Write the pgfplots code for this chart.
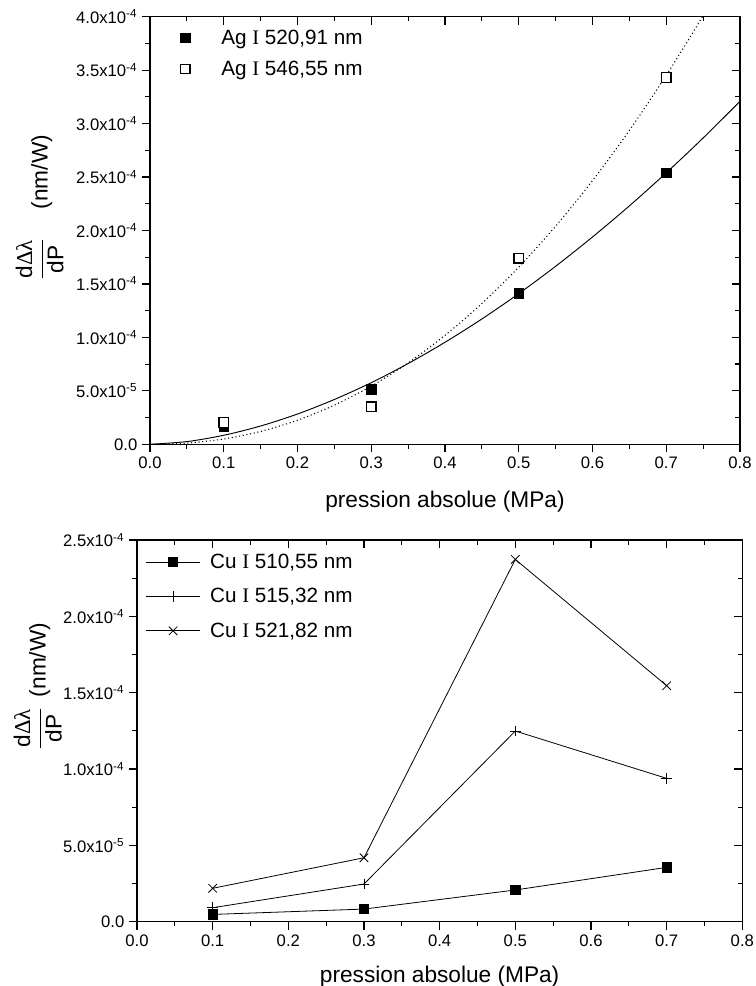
\documentclass[border=0pt]{standalone}
\usepackage{pgfplots}
\pgfplotsset{compat=1.18}
\usepackage{fontspec}
\setmainfont{Liberation Sans}
\newfontfamily\serifI{Liberation Serif}
\begin{document}
\begin{tikzpicture}
\useasboundingbox (0,0) rectangle (567pt,-739.5pt);
\pgfplotsset{
  mystyle/.style={scale only axis, xmin=0, xmax=0.8,
    axis line style={line width=1.1pt},
    every tick/.style={line width=0.9pt,black},
    major tick length=6pt, minor tick length=3.5pt,
    tick label style={font=\fontsize{12.5}{14}\selectfont},
    label style={font=\fontsize{17}{20}\selectfont},
    xtick={0,0.1,0.2,0.3,0.4,0.5,0.6,0.7,0.8},
    minor x tick num=1, minor y tick num=1,
    scaled y ticks=false, scaled x ticks=false},
  topaxis/.style={mystyle, at={(112.5pt,-333.2pt)}, anchor=south west,
    width=442.5pt, height=320.7pt, ymin=0, ymax=4e-4,
    ytick={0,5e-5,1e-4,1.5e-4,2e-4,2.5e-4,3e-4,3.5e-4,4e-4}},
  botaxis/.style={mystyle, at={(102.75pt,-691.3pt)}, anchor=south west,
    width=454pt, height=286.3pt, ymin=0, ymax=2.5e-4,
    ytick={0,5e-5,1e-4,1.5e-4,2e-4,2.5e-4}},
}
% ---------------- top panel ----------------
\begin{axis}[topaxis,
  xtick pos=left, ytick pos=left, tick align=outside,
  xticklabels={0.0,0.1,0.2,0.3,0.4,0.5,0.6,0.7,0.8},
  yticklabels={0.0,5.0x10\textsuperscript{-5},1.0x10\textsuperscript{-4},1.5x10\textsuperscript{-4},2.0x10\textsuperscript{-4},2.5x10\textsuperscript{-4},3.0x10\textsuperscript{-4},3.5x10\textsuperscript{-4},4.0x10\textsuperscript{-4}},
  xlabel={pression absolue (MPa)},
  xlabel style={at={(axis description cs:0.5,-0.147)}, anchor=base},
  ylabel={$\displaystyle\frac{\mbox{d{\serifI Δλ}}}{\mbox{dP}}$\hspace{22pt}(nm/W)},
  ylabel style={at={(axis description cs:-0.187,0.554)}, anchor=center},
  legend style={draw=none, fill=none, at={(axis description cs:0.051,0.975)}, anchor=north west,
    font=\fontsize{15.5}{18}\selectfont, inner sep=0pt, row sep=8pt,
    nodes={inner sep=1.5pt},
    /tikz/every odd column/.append style={column sep=22pt}},
  legend cell align=left,
  legend image code/.code={\draw[#1] plot coordinates {(0pt,0pt)};},
]
\addplot[black, line width=0.7pt, smooth, forget plot] coordinates {
 (0,0) (0.05,2.51e-6) (0.1,8.43e-6) (0.15,1.71e-5) (0.2,2.83e-5) (0.25,4.19e-5)
 (0.3,5.76e-5) (0.35,7.55e-5) (0.4,9.54e-5) (0.45,1.172e-4) (0.5,1.409e-4)
 (0.55,1.665e-4) (0.6,1.939e-4) (0.65,2.23e-4) (0.7,2.539e-4) (0.75,2.865e-4) (0.8,3.208e-4)};
\addplot[black, line width=0.8pt, dash pattern=on 0.8pt off 2pt, smooth, forget plot] coordinates {
 (0,0) (0.05,1.10e-6) (0.1,4.96e-6) (0.15,1.20e-5) (0.2,2.25e-5) (0.25,3.66e-5)
 (0.3,5.44e-5) (0.35,7.61e-5) (0.4,1.019e-4) (0.45,1.317e-4) (0.5,1.657e-4)
 (0.55,2.04e-4) (0.6,2.466e-4) (0.65,2.936e-4) (0.7,3.451e-4) (0.75,4.011e-4) (0.8,4.617e-4)};
\addplot[only marks, mark=square*, mark size=3.6pt, black] coordinates {
 (0.1,1.65e-5) (0.3,5.15e-5) (0.5,1.41e-4) (0.7,2.54e-4)};
\addlegendentry{Ag {\serifI I} 520,91 nm}
\addplot[only marks, mark=square*, mark size=3.6pt, mark options={fill=white, draw=black, line width=0.9pt}] coordinates {
 (0.1,2.05e-5) (0.3,3.5e-5) (0.5,1.74e-4) (0.7,3.43e-4)};
\addlegendentry{Ag {\serifI I} 546,55 nm}
\end{axis}
\begin{axis}[topaxis,
  xtick pos=right, ytick pos=right, tick align=inside,
  xticklabels={}, yticklabels={}]
\end{axis}
% ---------------- bottom panel ----------------
\begin{axis}[botaxis,
  xtick pos=left, ytick pos=left, tick align=outside,
  xticklabels={0.0,0.1,0.2,0.3,0.4,0.5,0.6,0.7,0.8},
  yticklabels={0.0,5.0x10\textsuperscript{-5},1.0x10\textsuperscript{-4},1.5x10\textsuperscript{-4},2.0x10\textsuperscript{-4},2.5x10\textsuperscript{-4}},
  xlabel={pression absolue (MPa)},
  xlabel style={at={(axis description cs:0.5,-0.16)}, anchor=base},
  ylabel={$\displaystyle\frac{\mbox{d{\serifI Δλ}}}{\mbox{dP}}$\hspace{8pt}(nm/W)},
  ylabel style={at={(axis description cs:-0.164,0.6175)}, anchor=center},
  legend style={draw=none, fill=none, at={(axis description cs:0.0144,0.97)}, anchor=north west,
    font=\fontsize{15.5}{18}\selectfont, inner sep=0pt, row sep=10.5pt,
    nodes={inner sep=1.5pt},
    /tikz/every odd column/.append style={column sep=6pt}},
  legend cell align=left,
  legend image code/.code={\draw[mark repeat=2, mark phase=2, #1] plot coordinates {(0pt,0pt) (20pt,0pt) (40pt,0pt)};},
]
\addplot[black, line width=0.6pt, mark=square*, mark size=3.5pt] coordinates {
 (0.1,4.8e-6) (0.3,8.3e-6) (0.5,2.08e-5) (0.7,3.56e-5)};
\addlegendentry{Cu {\serifI I} 510,55 nm}
\addplot[black, line width=0.6pt, mark=+, mark size=4pt] coordinates {
 (0.1,9.2e-6) (0.3,2.47e-5) (0.5,1.249e-4) (0.7,9.39e-5)};
\addlegendentry{Cu {\serifI I} 515,32 nm}
\addplot[black, line width=0.6pt, mark=x, mark size=4.5pt] coordinates {
 (0.1,2.19e-5) (0.3,4.19e-5) (0.5,2.373e-4) (0.7,1.546e-4)};
\addlegendentry{Cu {\serifI I} 521,82 nm}
\end{axis}
\begin{axis}[botaxis,
  xtick pos=right, ytick pos=right, tick align=inside,
  xticklabels={}, yticklabels={}]
\end{axis}
\end{tikzpicture}
\end{document}
